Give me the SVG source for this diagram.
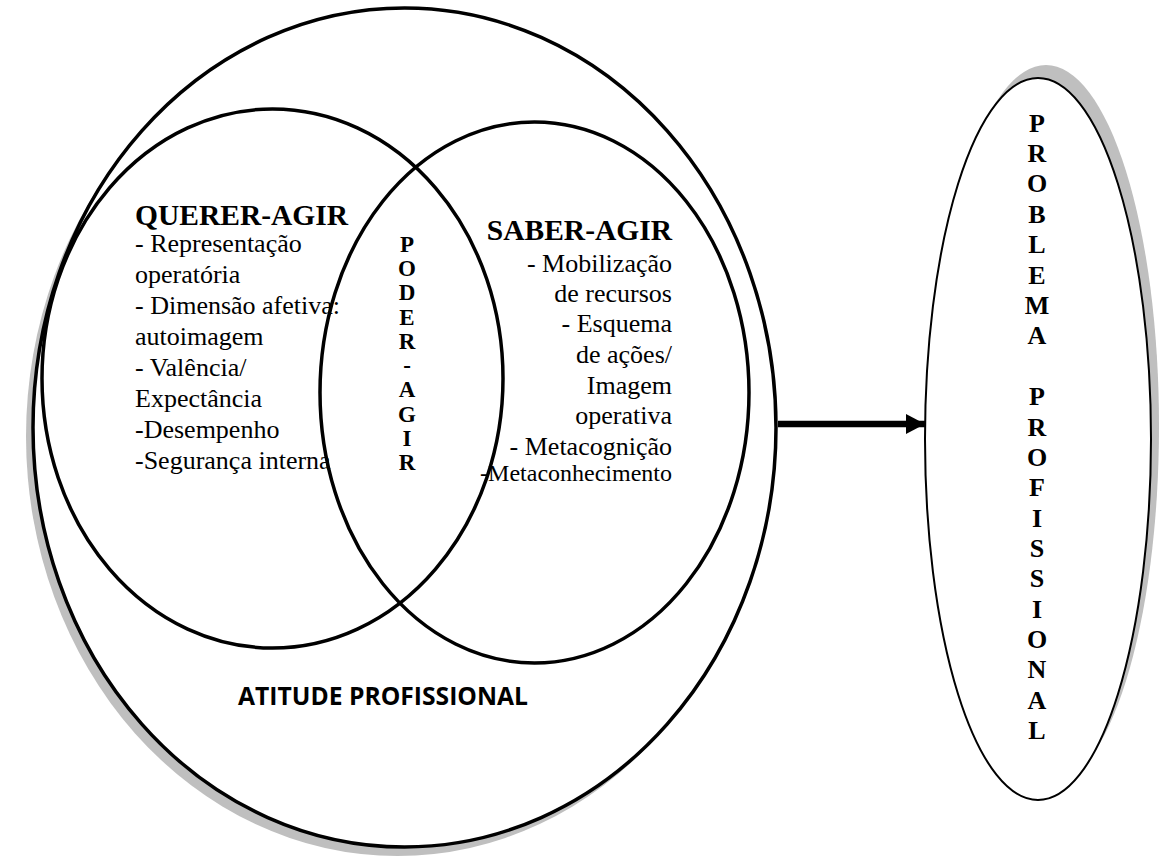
<svg xmlns="http://www.w3.org/2000/svg" width="1161" height="856" viewBox="0 0 1161 856">
  <style>
    .ring { fill: none; stroke: #000; stroke-width: 3.5; }
    .shade { fill: #bfbfbf; stroke: none; }
    .body { font-family: "Liberation Serif", "Times New Roman", serif; font-size: 26px; fill: #000; }
    .head { font-family: "Liberation Serif", "Times New Roman", serif; font-size: 29.5px; font-weight: bold; fill: #000; }
    .vert { font-family: "Liberation Serif", "Times New Roman", serif; font-weight: bold; fill: #000; text-anchor: middle; }
    .label { font-family: "Open Sans", "Liberation Sans", sans-serif; font-size: 25px; font-weight: bold; fill: #000; }
  </style>
  <defs>
    <marker id="arrowhead" viewBox="0 0 19 20" refX="19" refY="10" markerWidth="19" markerHeight="20" markerUnits="userSpaceOnUse" orient="auto">
      <path d="M0,0 L19,10 L0,20 Z" fill="#000"/>
    </marker>
  </defs>
  <rect width="1161" height="856" fill="#fff"/>

  <!-- outer ring: professional attitude -->
  <g id="atitude-profissional">
    <ellipse class="shade" cx="397.5" cy="436.5" rx="371.5" ry="419.5"/>
    <ellipse cx="404.5" cy="427.5" rx="371.5" ry="419.5" fill="#fff" stroke="#000" stroke-width="3.5"/>
    <text class="label" x="238" y="705" textLength="290" lengthAdjust="spacingAndGlyphs">ATITUDE PROFISSIONAL</text>
  </g>

  <!-- left circle: wanting to act -->
  <g id="querer-agir">
    <ellipse class="ring" cx="272.5" cy="378.5" rx="230.5" ry="269.5"/>
    <text class="head" x="135" y="225">QUERER-AGIR</text>
    <text class="body" x="135" y="252">- Representação</text>
    <text class="body" x="135" y="283">operatória</text>
    <text class="body" x="135" y="314">- Dimensão afetiva:</text>
    <text class="body" x="135" y="345">autoimagem</text>
    <text class="body" x="135" y="376">- Valência/</text>
    <text class="body" x="135" y="407">Expectância</text>
    <text class="body" x="135" y="438">-Desempenho</text>
    <text class="body" x="135" y="469">-Segurança interna</text>
  </g>

  <!-- right circle: knowing how to act -->
  <g id="saber-agir">
    <ellipse class="ring" cx="534.5" cy="392.5" rx="214.5" ry="270.5"/>
    <g text-anchor="end">
      <text class="head" x="672" y="240">SABER-AGIR</text>
      <text class="body" x="672" y="272">- Mobilização</text>
      <text class="body" x="672" y="302">de recursos</text>
      <text class="body" x="672" y="332">- Esquema</text>
      <text class="body" x="672" y="363">de ações/</text>
      <text class="body" x="672" y="394">Imagem</text>
      <text class="body" x="672" y="424">operativa</text>
      <text class="body" x="672" y="455">- Metacognição</text>
      <text class="body" x="672" y="481" style="font-size:24px">-Metaconhecimento</text>
    </g>
  </g>

  <!-- overlap: being able to act -->
  <g id="poder-agir" class="vert" font-size="23">
    <text x="407" y="252">P</text>
    <text x="407" y="276">O</text>
    <text x="407" y="300">D</text>
    <text x="407" y="325">E</text>
    <text x="407" y="349">R</text>
    <text x="407" y="373">-</text>
    <text x="407" y="397">A</text>
    <text x="407" y="422">G</text>
    <text x="407" y="446">I</text>
    <text x="407" y="470">R</text>
  </g>

  <!-- professional problem -->
  <g id="problema-profissional">
    <ellipse class="shade" cx="1046" cy="426" rx="113" ry="361"/>
    <ellipse cx="1038" cy="439" rx="113" ry="361" fill="#fff" stroke="#000" stroke-width="2"/>
    <g class="vert" font-size="26">
      <text x="1037" y="132">P</text>
      <text x="1037" y="162">R</text>
      <text x="1037" y="192">O</text>
      <text x="1037" y="223">B</text>
      <text x="1037" y="253">L</text>
      <text x="1037" y="284">E</text>
      <text x="1037" y="314">M</text>
      <text x="1037" y="344">A</text>
      <text x="1037" y="405">P</text>
      <text x="1037" y="436">R</text>
      <text x="1037" y="466">O</text>
      <text x="1037" y="496">F</text>
      <text x="1037" y="527">I</text>
      <text x="1037" y="557">S</text>
      <text x="1037" y="587">S</text>
      <text x="1037" y="618">I</text>
      <text x="1037" y="648">O</text>
      <text x="1037" y="678">N</text>
      <text x="1037" y="709">A</text>
      <text x="1037" y="739">L</text>
    </g>
  </g>

  <!-- connector -->
  <g id="connectors">
    <line x1="778" y1="424" x2="925" y2="424" stroke="#000" stroke-width="6.5" marker-end="url(#arrowhead)"/>
  </g>
</svg>
